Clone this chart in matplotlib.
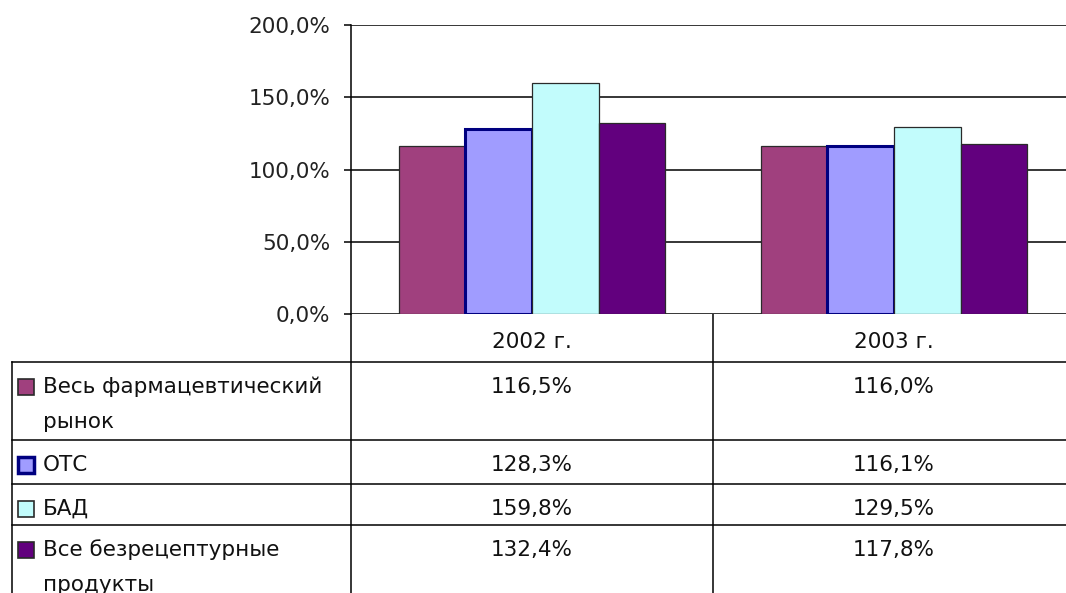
import numpy as np
import matplotlib.pyplot as plt
from matplotlib.patches import Rectangle
from matplotlib.transforms import blended_transform_factory

# growth of the OTC segments, % of previous year
years = ['2002 г.', '2003 г.']
series = ['Весь фармацевтический\nрынок', 'ОТС', 'БАД', 'Все безрецептурные\nпродукты']
pharma_market = [116.5, 116.0]
otc = [128.3, 116.1]
supplements = [159.8, 129.5]
all_otc = [132.4, 117.8]
values = [pharma_market, otc, supplements, all_otc]
y_ticks = [0, 50, 100, 150, 200]

colors = ['#a0407e', '#a09cff', '#c2fcfc', '#62007e']
edges = ['#2a2a2a', '#000080', '#2a2a2a', '#2a2a2a']
edge_w = [0.9, 2.2, 0.9, 0.9]


def pct(v, pos=None):
    return f'{v:.1f}%'.replace('.', ',')


W, H = 1066, 593
FS = 15.5
plt.rcParams['font.family'] = ['DejaVu Sans']
fig = plt.figure(figsize=(W / 100, H / 100), dpi=100)


def box(x0, y0, x1, y1):
    # pixel box (top-left origin) -> figure fraction rect
    return [x0 / W, 1 - y1 / H, (x1 - x0) / W, (y1 - y0) / H]


# bar chart
ax = fig.add_axes(box(351, 25, 1075, 314))
x = np.arange(len(years))
bw = 0.184
for i, vals in enumerate(values):
    ax.bar(x + (i - 1.5) * bw, vals, bw, color=colors[i], edgecolor=edges[i],
           linewidth=edge_w[i], zorder=3)
ax.set_xlim(-0.5, 1.5)
ax.set_ylim(0, 200)
ax.set_yticks(y_ticks)
ax.yaxis.set_major_formatter(pct)
ax.set_axisbelow(True)
ax.grid(axis='y', color='black', lw=1.1)
ax.set_xticks([])
for s in ['top', 'right', 'bottom']:
    ax.spines[s].set_visible(False)
ax.spines['left'].set_linewidth(1.1)
ax.tick_params(axis='y', length=5, width=1.1, pad=10, labelsize=FS, labelcolor='#222')

# data table below the plot
tb = fig.add_axes([0, 0, 1, 1], zorder=-1)
tb.set_xlim(0, W)
tb.set_ylim(H, 0)
tb.axis('off')
col = blended_transform_factory(ax.transData, tb.transData)

row_tops = [362, 440, 484, 525]
lc = 'black'
lw = 1.1
for y in row_tops:
    tb.plot([12, W], [y, y], color=lc, lw=lw)
tb.plot([12, 12], [362, H], color=lc, lw=lw)
tb.plot([351, 351], [314, H], color=lc, lw=lw)
tb.plot([0.5, 0.5], [314, H], color=lc, lw=lw, transform=col)

for j, yr in enumerate(years):
    tb.text(j, 342, yr, transform=col, ha='center', va='center', fontsize=FS, color='#111')

for i, name in enumerate(series):
    top = row_tops[i]
    tb.add_patch(Rectangle((18, top + 17), 16, 16, facecolor=colors[i],
                           edgecolor=edges[i], lw=edge_w[i] + 0.3))
    for k, line in enumerate(name.split('\n')):
        tb.text(43, top + 31 + k * 35, line, ha='left', va='baseline',
                fontsize=FS, color='#111')
    for j in range(len(years)):
        tb.text(j, top + 31, pct(values[i][j]), transform=col, ha='center',
                va='baseline', fontsize=FS, color='#111')

fig.savefig('out.png', dpi=100)
